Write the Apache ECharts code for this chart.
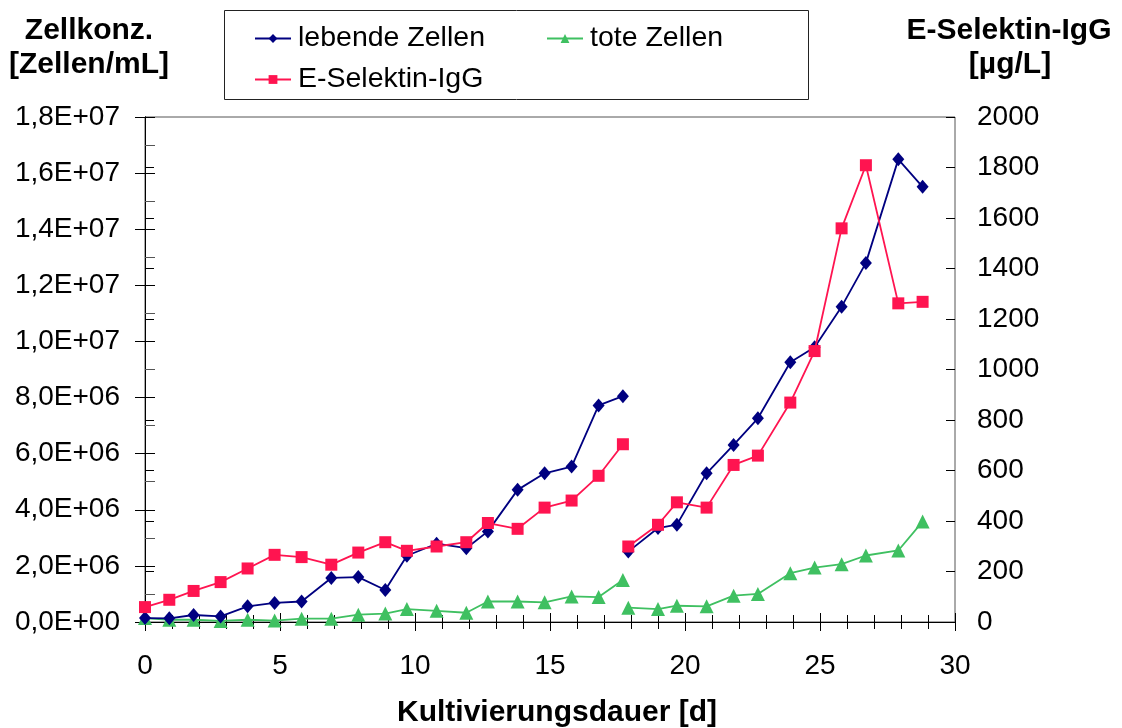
<!DOCTYPE html>
<html>
<head>
<meta charset="utf-8">
<script src="https://cdn.jsdelivr.net/npm/echarts@6/dist/echarts.min.js"></script>
<style>
  html, body { margin: 0; padding: 0; background: #ffffff; }
  #chart { width: 1122px; height: 728px; }
</style>
</head>
<body>
<div id="chart"></div>
<script>
// Sampling times in days; the null entry separates the two cultivation runs
const days = [0, 0.9, 1.8, 2.8, 3.8, 4.8, 5.8, 6.9, 7.9, 8.9, 9.7, 10.8, 11.9, 12.7, 13.8, 14.8, 15.8, 16.8, 17.7,
              17.8,
              17.9, 19.0, 19.7, 20.8, 21.8, 22.7, 23.9, 24.8, 25.8, 26.7, 27.9, 28.8];

// Viable cells [cells/mL]
const lebendeZellen = [1.4e5, 1.3e5, 2.5e5, 2.0e5, 5.6e5, 6.8e5, 7.3e5, 1.57e6, 1.60e6, 1.14e6, 2.36e6, 2.79e6, 2.63e6, 3.23e6, 4.71e6, 5.30e6, 5.54e6, 7.72e6, 8.05e6,
                       null,
                       2.51e6, 3.35e6, 3.47e6, 5.30e6, 6.31e6, 7.26e6, 9.26e6, 9.79e6, 1.124e7, 1.280e7, 1.649e7, 1.551e7];

// Dead cells [cells/mL]
const toteZellen = [1.4e5, 8e4, 8e4, 4e4, 8e4, 5e4, 1.2e5, 1.2e5, 2.6e5, 3.0e5, 4.6e5, 4.0e5, 3.3e5, 7.3e5, 7.3e5, 7.0e5, 9.1e5, 8.9e5, 1.5e6,
                    null,
                    5.1e5, 4.6e5, 5.8e5, 5.6e5, 9.4e5, 1.0e6, 1.74e6, 1.94e6, 2.06e6, 2.37e6, 2.55e6, 3.58e6];

// Product titre [µg/L]
const eSelektinIgG = [59, 88, 123, 158, 212, 266, 257, 227, 275, 316, 282, 299, 316, 392, 369, 453, 481, 579, 704,
                      null,
                      299, 385, 474, 453, 622, 659, 869, 1073, 1559, 1809, 1262, 1268];

// Axis tick labels
const xTickLabels = ['0', '5', '10', '15', '20', '25', '30'];
const leftTickLabels = ['0,0E+00', '2,0E+06', '4,0E+06', '6,0E+06', '8,0E+06', '1,0E+07', '1,2E+07', '1,4E+07', '1,6E+07', '1,8E+07'];
const rightTickLabels = ['0', '200', '400', '600', '800', '1000', '1200', '1400', '1600', '1800', '2000'];

const FONT = '"Liberation Sans", Arial, sans-serif';
const BLUE = '#000080';
const GREEN = '#3fc061';
const RED = '#ff1450';

const pairs = (vals) => days.map((d, i) => [d, vals[i]]);

const chart = echarts.init(document.getElementById('chart'), null, { renderer: 'canvas' });

const baseText = { fontFamily: FONT, fontSize: 28, color: '#000' };

function legendAt(name, left, top) {
  return {
    data: [name],
    left: left, top: top,
    orient: 'horizontal',
    itemWidth: 36, itemHeight: 11,
    itemGap: 0,
    padding: 0,
    textStyle: Object.assign({}, baseText, { fontSize: 28.5, padding: [0, 0, 0, 2] }),
    selectedMode: false
  };
}

function title(text, x, y) {
  return {
    type: 'text', x: x, y: y,
    style: { text: text, font: 'bold 30px ' + FONT, fill: '#000', textAlign: 'center', textVerticalAlign: 'middle' }
  };
}

const option = {
  animation: false,
  backgroundColor: '#ffffff',
  grid: {
    left: 145, right: 167, top: 117, bottom: 106,
    show: true, borderColor: '#555', borderWidth: 1, backgroundColor: 'transparent'
  },
  legend: [
    legendAt('lebende Zellen', 254, 24),
    legendAt('tote Zellen', 546, 24),
    legendAt('E-Selektin-IgG', 254, 65)
  ],
  xAxis: [
    {
      type: 'value', min: 0, max: 30, interval: 5, position: 'bottom',
      axisLine: { show: true, lineStyle: { color: '#000', width: 1 } },
      axisTick: { show: true, inside: false, length: 9, lineStyle: { color: '#000' } },
      minorTick: { show: true, splitNumber: 5, length: 7, lineStyle: { color: '#000' } },
      splitLine: { show: false },
      axisLabel: Object.assign({}, baseText, {
        margin: 30,
        formatter: (v) => xTickLabels[Math.round(v / 5)]
      })
    },
    {
      type: 'value', min: 0, max: 30, interval: 5, position: 'bottom',
      axisLine: { show: false },
      axisTick: { show: true, inside: true, length: 9, lineStyle: { color: '#000' } },
      minorTick: { show: true, splitNumber: 5, length: 7, lineStyle: { color: '#000' } },
      splitLine: { show: false },
      axisLabel: { show: false }
    }
  ],
  yAxis: [
    {
      type: 'value', min: 0, max: 1.8e7, interval: 2e6, position: 'left',
      axisLine: { show: true, lineStyle: { color: '#000', width: 1 } },
      axisTick: { show: true, inside: false, length: 10, lineStyle: { color: '#000' } },
      splitLine: { show: false },
      axisLabel: Object.assign({}, baseText, {
        margin: 25,
        formatter: (v) => leftTickLabels[Math.round(v / 2e6)]
      })
    },
    {
      type: 'value', min: 0, max: 2000, interval: 200, position: 'right',
      axisLine: { show: true, lineStyle: { color: '#000', width: 1 } },
      axisTick: { show: true, inside: false, length: 9, lineStyle: { color: '#000' } },
      splitLine: { show: false },
      axisLabel: Object.assign({}, baseText, {
        margin: 22,
        formatter: (v) => rightTickLabels[Math.round(v / 200)]
      })
    },
    {
      type: 'value', min: 0, max: 1.8e7, interval: 2e6, position: 'left',
      axisLine: { show: false },
      axisTick: { show: true, inside: true, length: 10, lineStyle: { color: '#000' } },
      minorTick: { show: true, splitNumber: 2, length: 10, lineStyle: { color: '#555' } },
      splitLine: { show: false },
      axisLabel: { show: false }
    },
    {
      type: 'value', min: 0, max: 2000, interval: 200, position: 'right',
      axisLine: { show: false },
      axisTick: { show: true, inside: true, length: 9, lineStyle: { color: '#000' } },
      splitLine: { show: false },
      axisLabel: { show: false }
    }
  ],
  series: [
    {
      name: 'lebende Zellen', type: 'line', xAxisIndex: 0, yAxisIndex: 0,
      data: pairs(lebendeZellen), connectNulls: false,
      symbol: 'diamond', symbolSize: [12, 14], showAllSymbol: true,
      lineStyle: { color: BLUE, width: 1.8 }, itemStyle: { color: BLUE },
      z: 4
    },
    {
      name: 'tote Zellen', type: 'line', xAxisIndex: 0, yAxisIndex: 0,
      data: pairs(toteZellen), connectNulls: false,
      symbol: 'triangle', symbolSize: 14, showAllSymbol: true,
      lineStyle: { color: GREEN, width: 1.8 }, itemStyle: { color: GREEN },
      z: 3
    },
    {
      name: 'E-Selektin-IgG', type: 'line', xAxisIndex: 0, yAxisIndex: 1,
      data: pairs(eSelektinIgG), connectNulls: false,
      symbol: 'rect', symbolSize: 12, showAllSymbol: true,
      lineStyle: { color: RED, width: 1.8 }, itemStyle: { color: RED },
      z: 5
    }
  ],
  graphic: [
    // legend frame
    { type: 'rect', shape: { x: 224.5, y: 10.5, width: 584, height: 89 },
      style: { fill: 'none', stroke: '#222', lineWidth: 1 }, z: -1 },
    // axis titles
    title('Zellkonz.', 89, 31),
    title('[Zellen/mL]', 89, 65),
    title('E-Selektin-IgG', 1009, 31),
    title('[µg/L]', 1010, 65),
    title('Kultivierungsdauer [d]', 557, 713)
  ]
};

chart.setOption(option);
</script>
</body>
</html>
